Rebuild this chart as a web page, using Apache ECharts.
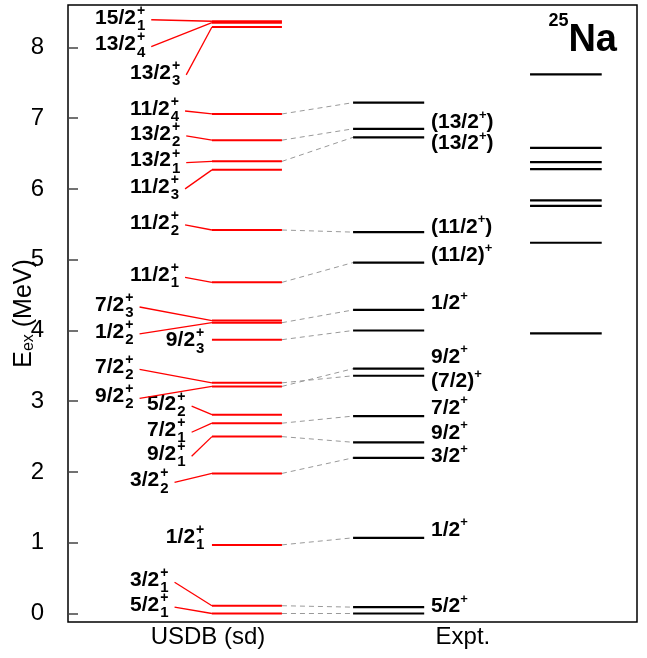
<!DOCTYPE html>
<html>
<head>
<meta charset="utf-8">
<script src="https://cdn.jsdelivr.net/npm/echarts@6/dist/echarts.min.js"></script>
<style>
html, body { margin: 0; padding: 0; background: #fff; }
#chart { width: 647px; height: 658px; }
</style>
</head>
<body>
<div id="chart"></div>
<script>
// USDB (sd) shell-model levels
var usdbSpin   = ['5/2','3/2','1/2','3/2','9/2','7/2','5/2','9/2','7/2','9/2','1/2','7/2','11/2','11/2','11/2','13/2','13/2','11/2','13/2','13/2','15/2'];
var usdbIndex  = [1, 1, 1, 2, 1, 1, 2, 2, 2, 3, 2, 3, 1, 2, 3, 1, 2, 4, 3, 4, 1];
var usdbEnergy = [0.00, 0.11, 0.97, 1.98, 2.50, 2.69, 2.81, 3.21, 3.26, 3.87, 4.11, 4.14, 4.68, 5.42, 6.27, 6.39, 6.69, 7.06, 8.29, 8.35, 8.37];

// experimental levels
var exptEnergy = [0.00, 0.09, 1.07, 2.20, 2.42, 2.79, 3.36, 3.46, 4.00, 4.29, 4.96, 5.39, 6.73, 6.85, 7.22];
var exptLabels = ['5/2{p|+}', '1/2{p|+}', '3/2{p|+}', '9/2{p|+}', '7/2{p|+}', '(7/2){p|+}', '9/2{p|+}', '1/2{p|+}', '(11/2){p|+}', '(11/2{p|+})', '(13/2{p|+})', '(13/2{p|+})'];

// 25Na column
var naEnergy = [3.96, 5.24, 5.76, 5.84, 6.28, 6.38, 6.58, 7.62];

// dashed correspondences [usdb index, expt index]
var links = [[0,0],[1,1],[2,2],[3,3],[4,4],[5,5],[7,7],[8,6],[9,8],[10,9],[12,10],[13,11],[15,12],[16,13],[17,14]];

var yTicks = [0, 1, 2, 3, 4, 5, 6, 7, 8];
var xNames = ['USDB (sd)', 'Expt.'];

// layout (x in 0..100 axis units, y in MeV)
var usdbSpan = [25.3, 37.6];
var exptSpan = [50.1, 62.6];
var naSpan = [81.2, 93.8];
var xNamePos = [24.6, 69.4];
var usdbLabelX = [10.9, 10.9, 17.2, 10.9, 13.9, 13.9, 13.9, 4.75, 4.75, 17.2, 4.75, 4.75, 10.9, 10.9, 10.9, 10.9, 10.9, 10.9, 10.9, 4.75, 4.75];
var usdbLabelY = [0.12, 0.47, 1.08, 1.88, 2.25, 2.59, 2.96, 3.07, 3.48, 3.86, 3.98, 4.36, 4.78, 5.52, 6.03, 6.40, 6.78, 7.13, 7.64, 8.04, 8.42];
var usdbConnector = [1, 1, 0, 1, 1, 1, 1, 1, 1, 0, 1, 1, 1, 1, 1, 1, 1, 1, 1, 1, 1];
var exptLabelX = 63.8;
var exptLabelY = [0.10, 1.18, 2.22, 2.55, 2.90, 3.28, 3.62, 4.38, 5.06, 5.46, 6.64, 6.94];

var FONT = '"Liberation Sans", Arial, Helvetica, sans-serif';

var ctx = document.createElement('canvas').getContext('2d');
function textWidth(s, size) {
  ctx.font = 'bold ' + size + 'px ' + FONT;
  return ctx.measureText(s).width;
}

function levelSeries(energies, span, color, width) {
  return {
    type: 'custom',
    data: energies.map(function (e) { return [span[0], e, span[1]]; }),
    encode: { x: [0, 2], y: 1 },
    renderItem: function (params, api) {
      var a = api.coord([api.value(0), api.value(1)]);
      var b = api.coord([api.value(2), api.value(1)]);
      return { type: 'line', shape: { x1: a[0], y1: a[1], x2: b[0], y2: b[1] },
               style: { stroke: color, lineWidth: width } };
    },
    silent: true
  };
}

var chart = echarts.init(document.getElementById('chart'));

chart.setOption({
  animation: false,
  title: {
    text: '{s|25}{n|Na}',
    right: 30,
    top: 12,
    padding: 0,
    textStyle: {
      rich: {
        s: { fontSize: 18, fontWeight: 'bold', fontFamily: FONT, color: '#000', verticalAlign: 'top', lineHeight: 18 },
        n: { fontSize: 38, fontWeight: 'bold', fontFamily: FONT, color: '#000', lineHeight: 58 }
      }
    }
  },
  grid: { left: 68, right: 10, top: 5, bottom: 36, show: true, borderColor: '#000', borderWidth: 1.5, outerBoundsMode: 'none' },
  xAxis: {
    type: 'value', min: 0, max: 100,
    axisLine: { show: false },
    axisTick: { show: false },
    splitLine: { show: false },
    axisLabel: {
      customValues: xNamePos,
      formatter: function (v) { return v < 50 ? xNames[0] : xNames[1]; },
      fontSize: 24, fontFamily: FONT, color: '#000', margin: 3
    }
  },
  yAxis: {
    type: 'value', min: -0.12, max: 8.6,
    name: 'E{s|ex} (MeV)',
    nameLocation: 'middle',
    nameGap: 31,
    nameMoveOverlap: false,
    nameTextStyle: {
      fontSize: 25, fontFamily: FONT, color: '#000',
      rich: { s: { fontSize: 16, fontFamily: FONT, color: '#000', verticalAlign: 'bottom', lineHeight: 16 } }
    },
    axisLine: { show: false },
    splitLine: { show: false },
    axisTick: { inside: true, length: 10, customValues: yTicks, lineStyle: { color: '#444', width: 1.5 } },
    axisLabel: { customValues: yTicks, fontSize: 24, fontFamily: FONT, color: '#000', margin: 24 }
  },
  series: [
    // dashed links between calculation and experiment
    {
      type: 'custom',
      data: links.map(function (l) { return [usdbSpan[1], usdbEnergy[l[0]], exptSpan[0], exptEnergy[l[1]]]; }),
      encode: { x: [0, 2], y: [1, 3] },
      renderItem: function (params, api) {
        var a = api.coord([api.value(0), api.value(1)]);
        var b = api.coord([api.value(2), api.value(3)]);
        return { type: 'line', shape: { x1: a[0], y1: a[1], x2: b[0], y2: b[1] },
                 style: { stroke: '#999', lineWidth: 1, lineDash: [5, 4] } };
      },
      silent: true
    },
    levelSeries(usdbEnergy, usdbSpan, '#ff0000', 2),
    levelSeries(exptEnergy, exptSpan, '#000', 2.2),
    levelSeries(naEnergy, naSpan, '#000', 2.2),
    // USDB spin labels with connectors
    {
      type: 'custom',
      data: usdbLabelX.map(function (x, i) { return [x, usdbLabelY[i]]; }),
      encode: { x: 0, y: 1 },
      renderItem: function (params, api) {
        var i = params.dataIndex;
        var p = api.coord([api.value(0), api.value(1)]);
        var end = api.coord([usdbSpan[0], usdbEnergy[i]]);
        var w = textWidth(usdbSpin[i], 21);
        var ws = Math.max(textWidth(String(usdbIndex[i]), 15), textWidth('+', 14));
        var sx = p[0] + w + 1;
        var base = { fontFamily: FONT, fontWeight: 'bold', fill: '#000', align: 'left', verticalAlign: 'middle' };
        var children = [
          { type: 'text', style: Object.assign({ x: p[0], y: p[1], text: usdbSpin[i], fontSize: 21 }, base) },
          { type: 'text', style: Object.assign({ x: sx, y: p[1] - 7, text: '+', fontSize: 14 }, base) },
          { type: 'text', style: Object.assign({ x: sx, y: p[1] + 8, text: String(usdbIndex[i]), fontSize: 15 }, base) }
        ];
        if (usdbConnector[i]) {
          children.push({ type: 'line', shape: { x1: sx + ws + 6, y1: p[1] + 2, x2: end[0], y2: end[1] },
                          style: { stroke: '#ff0000', lineWidth: 1.3 } });
        }
        return { type: 'group', children: children };
      },
      silent: true
    },
    // experimental spin labels
    {
      type: 'custom',
      data: exptLabelY.map(function (y) { return [exptLabelX, y]; }),
      encode: { x: 0, y: 1 },
      renderItem: function (params, api) {
        var p = api.coord([api.value(0), api.value(1)]);
        return {
          type: 'text',
          style: {
            x: p[0], y: p[1], text: exptLabels[params.dataIndex],
            fontSize: 21, fontWeight: 'bold', fontFamily: FONT, fill: '#000',
            align: 'left', verticalAlign: 'middle', lineHeight: 28,
            rich: { p: { fontSize: 13, fontWeight: 'bold', fontFamily: FONT, fill: '#000', verticalAlign: 'top', lineHeight: 13 } }
          }
        };
      },
      silent: true
    }
  ]
});
</script>
</body>
</html>
